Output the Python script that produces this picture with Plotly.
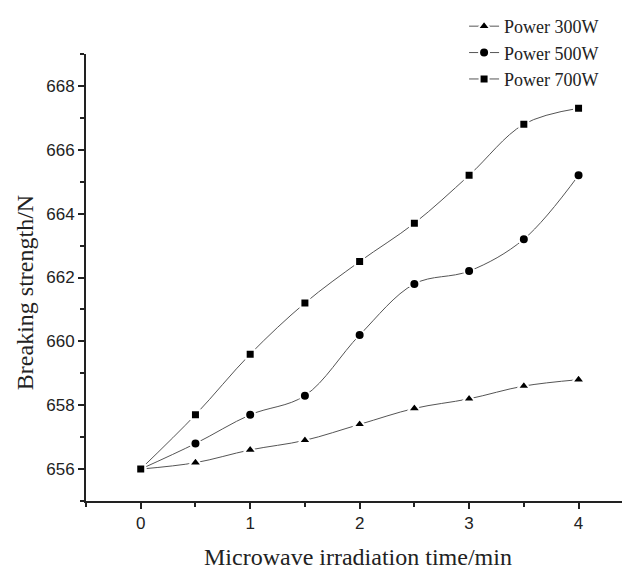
import plotly.graph_objects as go

time_min = [0, 0.5, 1, 1.5, 2, 2.5, 3, 3.5, 4]
power_300w = [656.0, 656.2, 656.6, 656.9, 657.4, 657.9, 658.2, 658.6, 658.8]
power_500w = [656.0, 656.8, 657.7, 658.3, 660.2, 661.8, 662.2, 663.2, 665.2]
power_700w = [656.0, 657.7, 659.6, 661.2, 662.5, 663.7, 665.2, 666.8, 667.3]
series_names = ["Power 300W", "Power 500W", "Power 700W"]
x_ticks = [0, 1, 2, 3, 4]
y_ticks = [656, 658, 660, 662, 664, 666, 668]
x_title = "Microwave irradiation time/min"
y_title = "Breaking strength/N"

symbols = ["triangle-up", "circle", "square"]
sizes = [11, 10, 9]

fig = go.Figure()
for name, vals, sym, sz in zip(series_names, [power_300w, power_500w, power_700w], symbols, sizes):
    fig.add_trace(go.Scatter(
        x=time_min, y=vals, name=name, mode="lines+markers",
        line=dict(color="#555555", width=1, shape="spline", smoothing=1.0),
        marker=dict(symbol=sym, size=sz, color="black", line=dict(color="white", width=2)),
    ))

# page has an 8px body margin, so the figure is 8px smaller than the window
fig.update_layout(
    width=622, height=563,
    margin=dict(l=78, r=0, t=46, b=70, autoexpand=False),
    paper_bgcolor="white", plot_bgcolor="white",
    showlegend=True,
    legend=dict(
        x=0.695, xanchor="left", y=1.103, yanchor="top",
        font=dict(family="Liberation Serif", size=18, color="#222"),
        bgcolor="rgba(0,0,0,0)", tracegroupgap=0,
    ),
    xaxis=dict(
        range=[-0.5, 4.47], tickvals=x_ticks, showgrid=False, zeroline=False,
        showline=True, linecolor="#222", linewidth=2,
        ticks="outside", ticklen=6, tickwidth=2, tickcolor="#222",
        minor=dict(dtick=0.5, tick0=0, ticks="outside", ticklen=4, tickwidth=1.5, tickcolor="#222"),
        tickfont=dict(family="Liberation Sans", size=17, color="#222"),
    ),
    yaxis=dict(
        range=[655, 669], tickvals=y_ticks, showgrid=False, zeroline=False,
        showline=True, linecolor="#222", linewidth=2,
        ticks="outside", ticklen=6, tickwidth=2, tickcolor="#222",
        minor=dict(dtick=1, tick0=655, ticks="outside", ticklen=4, tickwidth=1.5, tickcolor="#222"),
        tickfont=dict(family="Liberation Sans", size=17, color="#222"),
    ),
    annotations=[
        dict(text=x_title, xref="paper", yref="paper", x=0.5, y=-0.1253,
             xanchor="center", yanchor="middle", showarrow=False,
             font=dict(family="Liberation Serif", size=24, color="#222")),
        dict(text=y_title, xref="paper", yref="paper", x=-0.1121, y=0.465,
             xanchor="center", yanchor="middle", showarrow=False, textangle=-90,
             font=dict(family="Liberation Serif", size=24, color="#222")),
    ],
)

fig.write_html("out.html")
